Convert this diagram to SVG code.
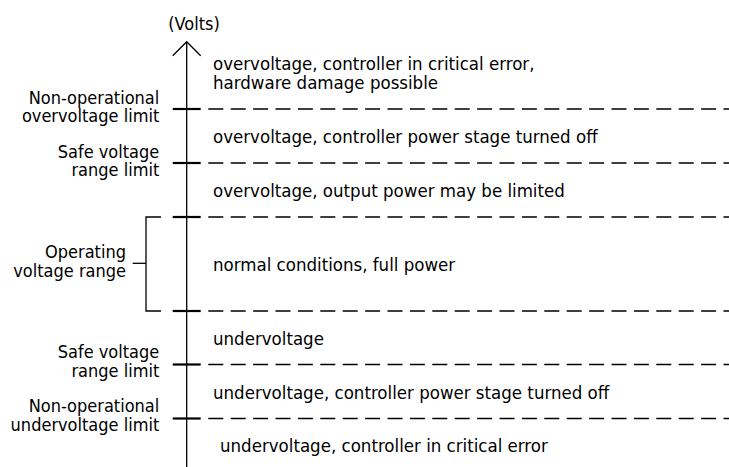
<svg xmlns="http://www.w3.org/2000/svg" width="729" height="467" viewBox="0 0 729 467">
<style>
  text { font-family: "DejaVu Sans Condensed", "Liberation Sans", sans-serif; font-size: 18px; fill: #000; }
  .lbl { text-anchor: end; }
  .zone { font-size: 18.5px; }
  .ln { stroke: #000; stroke-width: 1.3; fill: none; }
  .dash { stroke: #000; stroke-width: 1.3; stroke-dasharray: 15 7.4; fill: none; }
  .tick { stroke: #000; stroke-width: 2.2; }
</style>
<rect width="729" height="467" fill="#fff"/>
<g id="connectors">
  <line class="ln" x1="186.7" y1="467" x2="186.7" y2="42"/>
  <polyline class="ln" points="172.7,55.7 186.7,41.7 200.7,55.7"/>
  <line class="dash" x1="208.3" y1="109" x2="729" y2="109"/>
  <line class="dash" x1="208.3" y1="163" x2="729" y2="163"/>
  <line class="dash" x1="208.3" y1="217" x2="729" y2="217"/>
  <line class="dash" x1="208.3" y1="311" x2="729" y2="311"/>
  <line class="dash" x1="208.3" y1="364.5" x2="729" y2="364.5"/>
  <line class="dash" x1="208.3" y1="418.5" x2="729" y2="418.5"/>
  <line class="tick" x1="172.7" y1="109" x2="200.7" y2="109"/>
  <line class="tick" x1="172.7" y1="163" x2="200.7" y2="163"/>
  <line class="tick" x1="172.7" y1="217" x2="200.7" y2="217"/>
  <line class="tick" x1="172.7" y1="311" x2="200.7" y2="311"/>
  <line class="tick" x1="172.7" y1="364.5" x2="200.7" y2="364.5"/>
  <line class="tick" x1="172.7" y1="418.5" x2="200.7" y2="418.5"/>
  <polyline class="ln" points="161,217 146,217 146,311 161,311"/>
  <line class="ln" x1="132.7" y1="263.3" x2="146" y2="263.3"/>
</g>
<g id="axis-label"><text x="194" y="30" text-anchor="middle">(Volts)</text></g>
<g id="limit-nonop-over">
  <text class="lbl" x="159.3" y="103.5">Non-operational</text>
  <text class="lbl" x="159.3" y="122">overvoltage limit</text>
</g>
<g id="limit-safe-over">
  <text class="lbl" x="159.3" y="157.5">Safe voltage</text>
  <text class="lbl" x="159.3" y="176">range limit</text>
</g>
<g id="operating-range">
  <text class="lbl" x="126" y="257.5">Operating</text>
  <text class="lbl" x="126" y="276.5">voltage range</text>
</g>
<g id="limit-safe-under">
  <text class="lbl" x="159.3" y="358">Safe voltage</text>
  <text class="lbl" x="159.3" y="377">range limit</text>
</g>
<g id="limit-nonop-under">
  <text class="lbl" x="159.3" y="412">Non-operational</text>
  <text class="lbl" x="159.3" y="431">undervoltage limit</text>
</g>
<g id="zone-1">
  <text class="zone" x="213" y="70">overvoltage, controller in critical error,</text>
  <text class="zone" x="213" y="88.7">hardware damage possible</text>
</g>
<g id="zone-2"><text class="zone" x="213" y="143">overvoltage, controller power stage turned off</text></g>
<g id="zone-3"><text class="zone" x="213" y="197">overvoltage, output power may be limited</text></g>
<g id="zone-4"><text class="zone" x="213" y="271">normal conditions, full power</text></g>
<g id="zone-5"><text class="zone" x="213" y="345">undervoltage</text></g>
<g id="zone-6"><text class="zone" x="213" y="398.5">undervoltage, controller power stage turned off</text></g>
<g id="zone-7"><text class="zone" x="220" y="451.7">undervoltage, controller in critical error</text></g>
</svg>
